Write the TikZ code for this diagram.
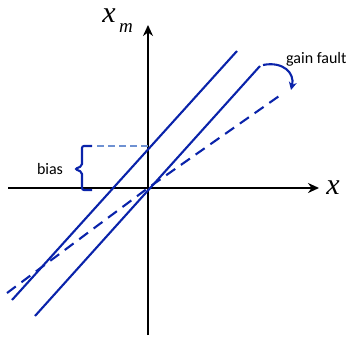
\documentclass[tikz,border=0pt]{standalone}
\usepackage{fontspec}
\setmainfont{Carlito}
\newfontfamily\mathser{Liberation Serif}
\usetikzlibrary{arrows.meta}
\definecolor{lineblue}{RGB}{10,35,170}
\definecolor{biasblue}{RGB}{110,145,210}
\begin{document}
\begin{tikzpicture}[x=1pt,y=-1pt,
  axis/.style={line width=2.4pt,black,-{Stealth[length=11pt,width=10pt]}},
  sline/.style={line width=2.1pt,lineblue},
  dline/.style={line width=2.1pt,lineblue,dash pattern=on 11pt off 7pt},
  lbl/.style={font=\fontsize{16}{16}\selectfont,inner sep=0pt},
  axlbl/.style={font=\fontsize{30}{30}\selectfont\mathser\itshape,inner sep=0pt},
  sublbl/.style={font=\fontsize{19}{19}\selectfont\mathser\itshape,inner sep=0pt}]
\useasboundingbox (0,0) rectangle (348,340);
% axes
\coordinate (hl) at (8,188);
\coordinate (hr) at (319,188);
\coordinate (vb) at (148,335);
\coordinate (vt) at (148,25);
\draw[axis] (hl) -- (hr);
\draw[axis] (vb) -- (vt);
\node[axlbl,anchor=base] (xl) at (333,194) {x};
\node[axlbl,anchor=base] (xml) at (109,22) {x};
\node[sublbl,anchor=base] (mml) at (126,32) {m};
% lines
\coordinate (i1) at (35,316);
\coordinate (i2) at (260,66);
\coordinate (b1) at (12,300);
\coordinate (b2) at (237,51);
\coordinate (g1) at (7,293);
\coordinate (g0) at (148,188);
\coordinate (g2) at (282,94);
\draw[sline] (i1) -- (i2);
\draw[sline] (b1) -- (b2);
\draw[dline] (g1) -- (g0) -- (g2);
% bias
\coordinate (bd1) at (97,146);
\coordinate (bd2) at (148,146);
\draw[line width=2.1pt,biasblue,dash pattern=on 7pt off 4pt] (bd1) -- (bd2);
\draw[line width=2.1pt,lineblue,rounded corners=2pt]
  (92,146) -- (82,146) -- (82,166) -- (75,169) -- (82,172) -- (82,190) -- (92,190);
\node[lbl] (bias) at (50,169) {bias};
% gain fault
\node[lbl,anchor=west] (gain) at (286,59) {gain fault};
\coordinate (ga) at (263,65);
\coordinate (gb) at (291,90);
\draw[line width=2.1pt,lineblue,-{Stealth[length=8pt,width=8pt]}]
  (ga) .. controls (283,61) and (295,73) .. (gb);
\end{tikzpicture}
\end{document}
